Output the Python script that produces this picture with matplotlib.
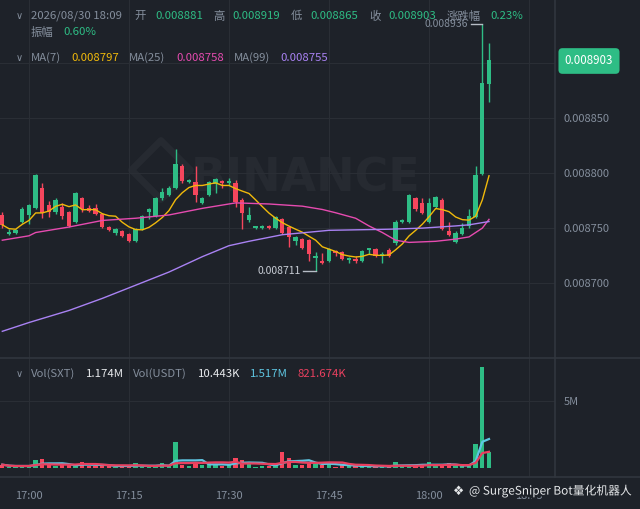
import matplotlib
matplotlib.use('Agg')  # no display in the sandbox
import matplotlib.pyplot as plt
import matplotlib.patheffects as pe
from matplotlib.lines import Line2D
import numpy as np
import pandas as pd

plt.rcParams['font.family'] = ['Noto Sans CJK SC', 'DejaVu Sans']

# 1 minute candles, 16:56 .. 18:09
opens = [0.008762, 0.008745, 0.008746, 0.008756, 0.008762, 0.008768, 0.008787, 0.008771, 0.008765, 0.008769,
         0.008765, 0.008756, 0.008777, 0.008768, 0.008768, 0.008763, 0.008751, 0.008746, 0.008747, 0.008745,
         0.008738, 0.008749, 0.008765, 0.008761, 0.008777, 0.008780, 0.008787, 0.008807, 0.008792, 0.008792,
         0.008773, 0.008780, 0.008790, 0.008793, 0.008791, 0.008791, 0.008776, 0.008757, 0.008750, 0.008750,
         0.008752, 0.008750, 0.008758, 0.008751, 0.008738, 0.008740, 0.008739, 0.008723, 0.008720, 0.008720,
         0.008729, 0.008728, 0.008721, 0.008722, 0.008720, 0.008730, 0.008731, 0.008725, 0.008730, 0.008736,
         0.008756, 0.008756, 0.008777, 0.008773, 0.008756, 0.008769, 0.008776, 0.008747, 0.008737, 0.008745,
         0.008752, 0.008760, 0.008799, 0.008881]
highs = [0.008765, 0.008749, 0.008749, 0.008769, 0.008772, 0.008799, 0.008791, 0.008775, 0.008777, 0.008773,
         0.008766, 0.008783, 0.008778, 0.008771, 0.008772, 0.008764, 0.008752, 0.008750, 0.008748, 0.008746,
         0.008750, 0.008762, 0.008768, 0.008778, 0.008787, 0.008788, 0.008822, 0.008808, 0.008795, 0.008807,
         0.008778, 0.008793, 0.008796, 0.008794, 0.008796, 0.008794, 0.008777, 0.008769, 0.008752, 0.008753,
         0.008753, 0.008761, 0.008759, 0.008752, 0.008743, 0.008741, 0.008740, 0.008728, 0.008727, 0.008732,
         0.008730, 0.008729, 0.008724, 0.008725, 0.008730, 0.008732, 0.008732, 0.008728, 0.008732, 0.008757,
         0.008758, 0.008781, 0.008778, 0.008777, 0.008777, 0.008779, 0.008777, 0.008756, 0.008747, 0.008755,
         0.008767, 0.008807, 0.008936, 0.008919]
lows = [0.008750, 0.008744, 0.008745, 0.008755, 0.008754, 0.008767, 0.008759, 0.008760, 0.008763, 0.008758,
        0.008751, 0.008755, 0.008765, 0.008765, 0.008762, 0.008750, 0.008747, 0.008744, 0.008742, 0.008737,
        0.008737, 0.008748, 0.008758, 0.008760, 0.008776, 0.008779, 0.008786, 0.008791, 0.008791, 0.008774,
        0.008772, 0.008779, 0.008782, 0.008787, 0.008789, 0.008769, 0.008749, 0.008756, 0.008749, 0.008749,
        0.008749, 0.008749, 0.008745, 0.008733, 0.008735, 0.008731, 0.008720, 0.008711, 0.008717, 0.008719,
        0.008725, 0.008721, 0.008718, 0.008718, 0.008719, 0.008726, 0.008724, 0.008718, 0.008724, 0.008735,
        0.008755, 0.008755, 0.008766, 0.008763, 0.008755, 0.008768, 0.008748, 0.008743, 0.008736, 0.008744,
        0.008750, 0.008759, 0.008798, 0.008865]
closes = [0.008753, 0.008746, 0.008748, 0.008767, 0.008771, 0.008798, 0.008764, 0.008765, 0.008776, 0.008761,
          0.008752, 0.008782, 0.008767, 0.008766, 0.008763, 0.008751, 0.008748, 0.008749, 0.008743, 0.008738,
          0.008749, 0.008761, 0.008767, 0.008777, 0.008783, 0.008787, 0.008808, 0.008793, 0.008794, 0.008780,
          0.008777, 0.008792, 0.008795, 0.008791, 0.008793, 0.008774, 0.008764, 0.008762, 0.008751, 0.008752,
          0.008750, 0.008760, 0.008746, 0.008742, 0.008742, 0.008732, 0.008726, 0.008725, 0.008718, 0.008731,
          0.008727, 0.008722, 0.008723, 0.008720, 0.008729, 0.008731, 0.008725, 0.008726, 0.008725, 0.008756,
          0.008757, 0.008780, 0.008767, 0.008764, 0.008773, 0.008778, 0.008749, 0.008744, 0.008746, 0.008750,
          0.008761, 0.008798, 0.008882, 0.008903]
# volume in millions SXT
volumes = [0.25, 0.1, 0.1, 0.15, 0.15, 0.57, 0.65, 0.2, 0.15, 0.2,
           0.25, 0.2, 0.45, 0.15, 0.15, 0.2, 0.15, 0.1, 0.15, 0.15,
           0.35, 0.1, 0.1, 0.15, 0.35, 0.15, 1.94, 0.25, 0.15, 0.35,
           0.25, 0.35, 0.25, 0.15, 0.2, 0.75, 0.6, 0.35, 0.1, 0.15,
           0.15, 0.25, 1.17, 0.77, 0.25, 0.25, 0.45, 0.3, 0.25, 0.35,
           0.1, 0.2, 0.15, 0.15, 0.15, 0.1, 0.1, 0.15, 0.1, 0.45,
           0.15, 0.15, 0.2, 0.25, 0.47, 0.15, 0.15, 0.35, 0.15, 0.15,
           0.15, 1.79, 7.54, 1.174]

ma25_idx = [0, 4, 5, 10, 15, 20, 25, 30, 35, 40, 45, 48, 50, 53, 55, 57, 59, 61, 65, 68, 70, 71, 72, 73]
ma25_vals = [0.008739, 0.008743, 0.008746, 0.008751, 0.008757, 0.008759, 0.008762, 0.008768, 0.008773, 0.008772,
             0.008770, 0.008767, 0.008764, 0.008759, 0.008752, 0.008746, 0.008739, 0.008737, 0.008738, 0.008740,
             0.008742, 0.008746, 0.008750, 0.008758]
ma99_idx = [0, 4, 10, 15, 20, 25, 30, 34, 37, 42, 49, 58, 63, 68, 70, 72, 73]
ma99_vals = [0.008656, 0.008664, 0.008675, 0.008686, 0.008698, 0.008710, 0.008724, 0.008734, 0.008738, 0.008744,
             0.008748, 0.008749, 0.008750, 0.008752, 0.008753, 0.008755, 0.008756]

tick_pos = [4, 19, 34, 49, 64, 79]
tick_labels = ['17:00', '17:15', '17:30', '17:45', '18:00', '18:15']
price_ticks = [0.0087, 0.00875, 0.0088, 0.00885, 0.0089]
price_labels = ['0.008700', '0.008750', '0.008800', '0.008850', '']

BG = '#1e2229'
GRID = '#2a2e35'
SEP = '#31363e'
GRAY = '#848e9c'
GREEN = '#2ebd85'
RED = '#f6465d'
YELLOW = '#f0b90b'
PINK = '#e64bb0'
PURPLE = '#a982f3'
CYAN = '#5ec6e2'
VRED = '#e8405f'

W, H = 640, 509
fig = plt.figure(figsize=(6.4, 5.09), dpi=100, facecolor=BG)


def fx(x):
    return x / W


def fy(y):
    return 1 - y / H


ax = fig.add_axes([0, fy(358), fx(555), 358 / H], facecolor=BG)
axv = fig.add_axes([0, fy(477), fx(555), (477 - 358) / H], facecolor=BG)

o = np.array(opens)
h = np.array(highs)
l = np.array(lows)
c = np.array(closes)
idx = np.arange(len(c))
colors = np.where(c >= o, GREEN, RED)

# faint exchange watermark behind the candles
ax.text(0.55, 0.5, 'BINANCE', transform=ax.transAxes, ha='center', va='center',
        fontsize=33, fontweight='bold', color='#262a31', family='DejaVu Sans', zorder=0)
ax.scatter([0.29], [0.525], marker='D', s=900, facecolor='none', edgecolor='#262a31',
           linewidth=5, transform=ax.transAxes, zorder=0)

# grid
for t in tick_pos:
    ax.axvline(t, color=GRID, lw=0.8, zorder=1)
    axv.axvline(t, color=GRID, lw=0.8, zorder=1)
for p in price_ticks:
    ax.axhline(p, color=GRID, lw=0.8, zorder=1)
axv.axhline(5, color=GRID, lw=0.8, zorder=1)

# candles
ax.vlines(idx, l, h, color=colors, linewidth=1, zorder=3)
ax.bar(idx, np.maximum(np.abs(c - o), 1.6e-6), bottom=np.minimum(o, c), width=0.65,
       color=colors, zorder=3)

# moving averages
ma7 = pd.Series(c).rolling(7, min_periods=1).mean()
ax.plot(idx, ma7, color=YELLOW, lw=1, zorder=4)
ax.plot(ma25_idx, ma25_vals, color=PINK, lw=1, zorder=4)
ax.plot(ma99_idx, ma99_vals, color=PURPLE, lw=1, zorder=4)

# high / low markers
hi = int(np.argmax(h))
lo = int(np.argmin(l))
ax.plot([hi - 1.7, hi], [h[hi], h[hi]], color='#b7bdc6', lw=1, zorder=5)
ax.text(hi - 2.2, h[hi], f'{h[hi]:.6f}', ha='right', va='center', color=GRAY, fontsize=7.5, zorder=5)
ax.plot([lo - 1.9, lo], [l[lo], l[lo]], color='#b7bdc6', lw=1, zorder=5)
ax.text(lo - 2.3, l[lo], f'{l[lo]:.6f}', ha='right', va='center', color='#c9ced6', fontsize=7.5, zorder=5)

ax.set_xlim(-0.345, 82.9)
ax.set_ylim(0.0086317, 0.0089578)
ax.yaxis.tick_right()
ax.set_yticks(price_ticks)
ax.set_yticklabels(price_labels)
ax.tick_params(axis='y', length=0, pad=6, colors=GRAY, labelsize=8)
ax.set_xticks([])
for s in ax.spines.values():
    s.set_visible(False)

# volume
vol = pd.Series(volumes)
axv.bar(idx, vol, width=0.65, color=colors, zorder=3)
axv.plot(idx, vol.rolling(5, min_periods=1).mean(), color=CYAN, lw=1.6, zorder=4)
axv.plot(idx, vol.rolling(10, min_periods=1).mean(), color=VRED, lw=1.6, zorder=4)
axv.set_xlim(-0.345, 82.9)
axv.set_ylim(-0.67, 8.2)
axv.yaxis.tick_right()
axv.set_yticks([5])
axv.set_yticklabels(['5M'])
axv.tick_params(axis='y', length=0, pad=6, colors=GRAY, labelsize=8)
axv.set_xticks(tick_pos)
axv.set_xticklabels(tick_labels)
axv.tick_params(axis='x', length=0, pad=10, colors=GRAY, labelsize=8)
for s in axv.spines.values():
    s.set_visible(False)

# panel separators
fig.add_artist(Line2D([0, 1], [fy(358), fy(358)], color=SEP, lw=1.2))
fig.add_artist(Line2D([0, 1], [fy(477), fy(477)], color=SEP, lw=1.2))
fig.add_artist(Line2D([fx(555), fx(555)], [fy(477), 1], color=SEP, lw=1.2))

# last price tag
fig.text(fx(589), fy(61), '0.008903', ha='center', va='center', color='white', fontsize=8.3,
         bbox=dict(boxstyle='round,pad=0.55,rounding_size=0.35', fc=GREEN, ec='none'))

# legends on top of the panels
header = [(31, 16, '2026/08/30 18:09', GRAY), (134, 16, '开', GRAY), (155, 16, '0.008881', GREEN),
          (213, 16, '高', GRAY), (232, 16, '0.008919', GREEN), (291, 16, '低', GRAY),
          (310, 16, '0.008865', GREEN), (369, 16, '收', GRAY), (388, 16, '0.008903', GREEN),
          (447, 16, '涨跌幅', GRAY), (490, 16, '0.23%', GREEN),
          (31, 32, '振幅', GRAY), (63, 32, '0.60%', GREEN),
          (31, 58, 'MA(7)', GRAY), (71, 58, '0.008797', YELLOW), (129, 58, 'MA(25)', GRAY),
          (176, 58, '0.008758', PINK), (234, 58, 'MA(99)', GRAY), (280, 58, '0.008755', PURPLE),
          (31, 374, 'Vol(SXT)', GRAY), (86, 374, '1.174M', '#eaecef'), (133, 374, 'Vol(USDT)', GRAY),
          (198, 374, '10.443K', '#eaecef'), (250, 374, '1.517M', CYAN), (298, 374, '821.674K', VRED)]
for x, y, txt, col in header:
    fig.text(fx(x), fy(y), txt, ha='left', va='center', color=col, fontsize=8.2)
for y in [16, 58, 374]:
    fig.text(fx(19), fy(y), '∨', ha='center', va='center', color=GRAY, fontsize=7, family='DejaVu Sans')

# bot watermark at bottom right
wm = fig.text(fx(632), fy(491), '@ SurgeSniper Bot量化机器人', ha='right', va='center',
              color='#e6e8ea', fontsize=8.5)
wm.set_path_effects([pe.withStroke(linewidth=3, foreground=BG)])
fig.text(fx(459), fy(491), '❖', ha='center', va='center', color='#e6e8ea', fontsize=9,
         family='DejaVu Sans')

fig.savefig('out.png', dpi=100, facecolor=BG)
